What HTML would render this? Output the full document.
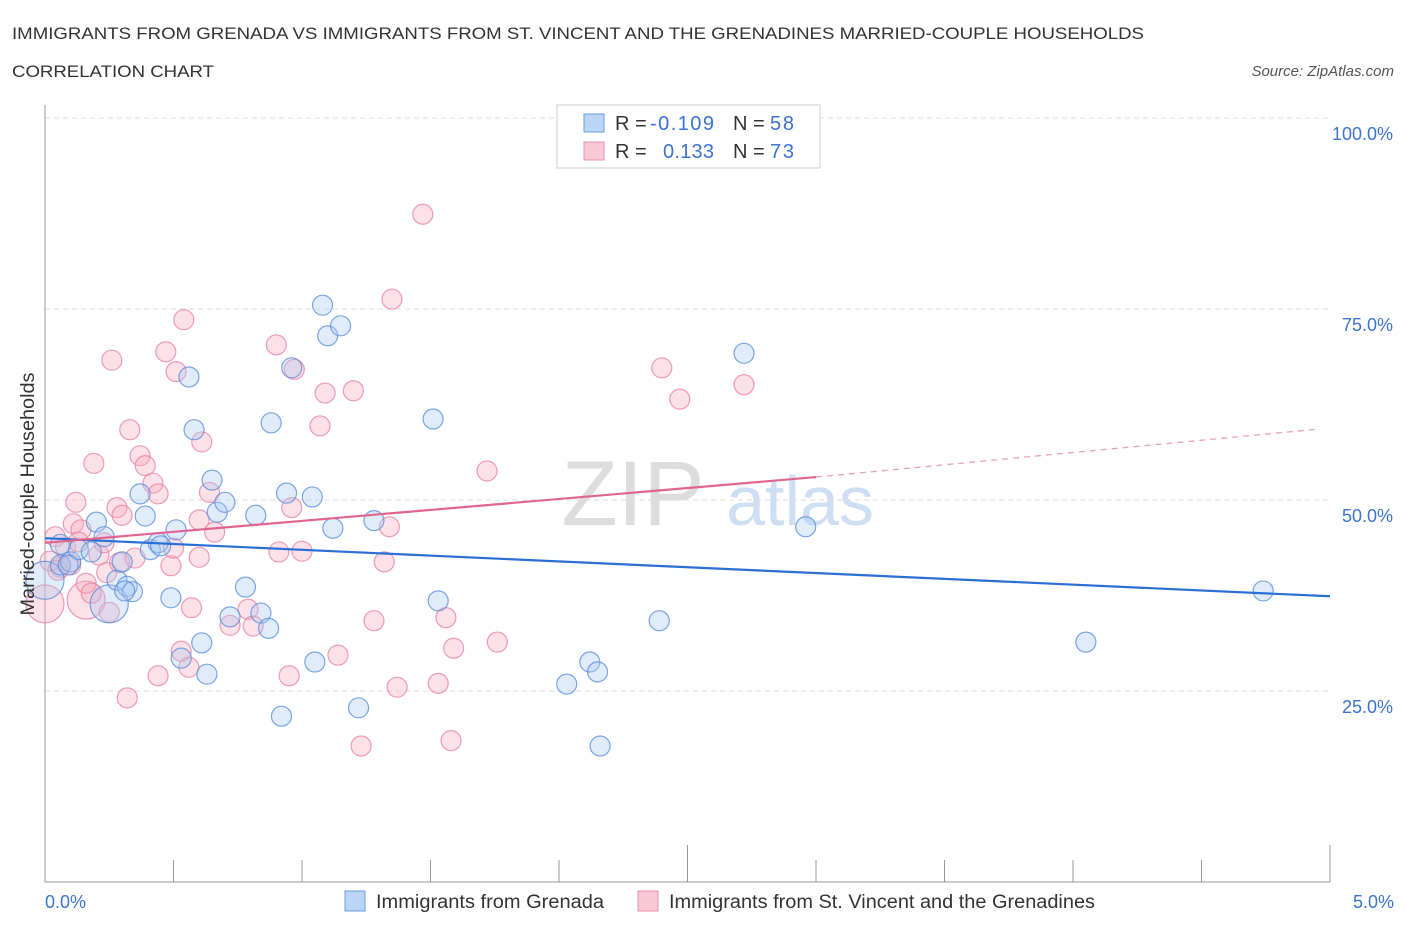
<!DOCTYPE html>
<html><head><meta charset="utf-8"><style>
body{margin:0;background:#fff;font-family:"Liberation Sans",sans-serif;}
svg text{font-family:"Liberation Sans",sans-serif;}
</style></head><body>
<svg id="chart" width="1406" height="930" xmlns="http://www.w3.org/2000/svg">
<text x="12" y="39" font-size="17" fill="#333" textLength="1132" lengthAdjust="spacingAndGlyphs">IMMIGRANTS FROM GRENADA VS IMMIGRANTS FROM ST. VINCENT AND THE GRENADINES MARRIED-COUPLE HOUSEHOLDS</text>
<text x="12" y="77" font-size="17" fill="#333" textLength="202" lengthAdjust="spacingAndGlyphs">CORRELATION CHART</text>
<text x="1394" y="76" font-size="15" fill="#555" font-style="italic" text-anchor="end">Source: ZipAtlas.com</text>
<text x="633" y="525" font-size="92" fill="#ddd" font-family="Liberation Serif" text-anchor="middle">ZIP</text>
<text x="800" y="525" font-size="70" fill="#cfdff3" text-anchor="middle">atlas</text>
<g id="grid"></g>
<g id="axes"></g>
<g id="pts"></g>
<g id="trend"></g>
<text x="34" y="494" font-size="19" fill="#333" text-anchor="middle" textLength="243" lengthAdjust="spacingAndGlyphs" transform="rotate(-90 34 494)">Married-couple Households</text>
<g>
<rect x="557" y="105" width="263" height="63" fill="#fff" stroke="#ccc"/>
<rect x="584" y="114" width="20" height="18" fill="#bcd5f5" stroke="#6a9be0"/>
<text x="615" y="130" font-size="20" fill="#333">R = </text><text x="650" y="130" font-size="20" fill="#3b73d1" textLength="64">-0.109</text>
<text x="733" y="130" font-size="20" fill="#333">N = </text><text x="770" y="130" font-size="20" fill="#3b73d1" textLength="24">58</text>
<rect x="584" y="142" width="20" height="18" fill="#f8c8d6" stroke="#e891ab"/>
<text x="615" y="158" font-size="20" fill="#333">R = </text><text x="663" y="158" font-size="20" fill="#3b73d1" textLength="51">0.133</text>
<text x="733" y="158" font-size="20" fill="#333">N = </text><text x="770" y="158" font-size="20" fill="#3b73d1" textLength="24">73</text>
</g>
<g>
<rect x="345" y="891" width="20" height="20" fill="#bcd5f5" stroke="#6a9be0"/>
<text x="376" y="908" font-size="19" fill="#333" textLength="228" lengthAdjust="spacingAndGlyphs">Immigrants from Grenada</text>
<rect x="638" y="891" width="20" height="20" fill="#f8c8d6" stroke="#e891ab"/>
<text x="669" y="908" font-size="19" fill="#333" textLength="426" lengthAdjust="spacingAndGlyphs">Immigrants from St. Vincent and the Grenadines</text>
</g>
</svg>
<script>
const yTicks=[25,50,75,100];
const yTickLabels=["25.0%","50.0%","75.0%","100.0%"];
const xTickLabels=["0.0%","5.0%"];
const blueX=[0.00,0.06,0.10,0.13,0.18,0.20,0.23,0.25,0.28,0.30,0.32,0.34,0.37,0.39,0.41,0.44,0.45,0.49,0.51,0.53,0.56,0.58,0.61,0.63,0.65,0.67,0.70,0.78,0.72,0.82,0.84,0.87,0.88,0.92,0.94,0.96,1.04,1.05,1.08,1.10,1.12,1.15,1.22,1.28,1.51,1.53,2.03,2.12,2.15,2.16,2.39,2.72,2.96,4.05,4.74,0.09,0.31,0.06];
const blueY=[39.5,41.5,41.9,43.5,43.2,47.1,45.2,36.4,39.5,41.9,38.7,38.0,50.8,47.9,43.5,44.4,44.0,37.2,46.1,29.3,66.1,59.2,31.3,27.2,52.6,48.4,49.7,38.6,34.7,48.0,35.2,33.2,60.1,21.7,50.9,67.3,50.4,28.8,75.5,71.5,46.3,72.8,22.8,47.3,60.6,36.8,25.9,28.8,27.5,17.8,34.2,69.2,46.5,31.4,38.1,41.5,38.1,44.2];
const blueBig=[0,7];
const pinkX=[0.00,0.04,0.06,0.10,0.11,0.12,0.14,0.16,0.16,0.18,0.19,0.21,0.23,0.25,0.26,0.28,0.30,0.29,0.32,0.33,0.35,0.37,0.39,0.42,0.44,0.44,0.47,0.49,0.50,0.51,0.53,0.54,0.56,0.57,0.60,0.60,0.61,0.64,0.66,0.72,0.79,0.81,0.90,0.91,0.95,0.96,0.97,1.00,1.07,1.09,1.14,1.20,1.23,1.28,1.32,1.34,1.35,1.37,1.47,1.53,1.56,1.58,1.59,1.72,1.76,2.40,2.47,2.72,0.02,0.08,0.13,0.05,0.24];
const pinkY=[36.4,45.2,41.2,41.5,46.9,49.7,46.1,36.9,39.1,37.8,54.8,42.8,44.4,35.3,68.3,49.0,48.0,41.8,24.1,59.2,42.4,55.8,54.5,52.2,50.8,27.0,69.4,41.4,43.7,66.8,30.2,73.6,28.1,35.9,47.4,42.5,57.6,51.0,45.8,33.6,35.7,33.5,70.3,43.2,27.0,49.0,67.1,43.3,59.7,64.0,29.7,64.3,17.8,34.2,41.9,46.5,76.3,25.5,87.4,26.0,34.6,18.5,30.6,53.8,31.4,67.3,63.2,65.1,42.0,43.8,44.5,40.8,40.5];
const pinkBig=[0,7];
const blueTrend=[45.0,37.4];
const pinkTrend=[44.4,53.0,59.3];
const pinkTrendX=[0,3.0,4.96];

const NS="http://www.w3.org/2000/svg";
const X0=45,X1=1330,Y0=882,Y100=118;
const sx=v=>X0+(X1-X0)*v/5;
const sy=v=>Y0-(Y0-Y100)*v/100;
function mk(tag,attrs,parent){const e=document.createElementNS(NS,tag);for(const k in attrs)e.setAttribute(k,attrs[k]);parent.appendChild(e);return e;}
const grid=document.getElementById('grid'),axes=document.getElementById('axes');
yTicks.forEach((t,i)=>{
  const l=mk('line',{x1:X0,x2:1330,y1:sy(t),y2:sy(t),stroke:'#ddd','stroke-dasharray':'5,4'},grid);
  
  
  const tx=mk('text',{x:1393,y:sy(t)+22,'font-size':18,fill:'#3b73d1','text-anchor':'end'},grid);
  tx.textContent=yTickLabels[i];
  
  
});
const ya=mk('line',{x1:X0,x2:X0,y1:105,y2:Y0,stroke:'#999'},axes);


const xa=mk('line',{x1:X0,x2:X1,y1:Y0,y2:Y0,stroke:'#999'},axes);


for(let i=0;i<=10;i++){
  const tk=mk('line',{x1:sx(i*0.5),x2:sx(i*0.5),y1:(i==5||i==10)?845:860,y2:Y0,stroke:'#999'},axes);
  
  
}
xTickLabels.forEach((s,i)=>{
  const tx=mk('text',{x:i?1394:45,y:908,'font-size':18,fill:'#3b73d1','text-anchor':i?'end':'start'},axes);
  tx.textContent=s;
  
  
});
const pts=document.getElementById('pts');
function drawSeries(xs,ys,big,fill,stroke,name){
  xs.forEach((x,i)=>{
    const c=mk('circle',{cx:sx(x),cy:sy(ys[i]),r:big.includes(i)?19:10,fill:fill,'fill-opacity':0.35,stroke:stroke,'stroke-width':1.2,'stroke-opacity':0.8},pts);
    
    
  });
}
drawSeries(pinkX,pinkY,pinkBig,'#f6a8bf','#e985a3','point-stvincent');
drawSeries(blueX,blueY,blueBig,'#a8c8f0','#5b8fdc','point-grenada');
const tr=document.getElementById('trend');
const bl=mk('line',{x1:sx(0),y1:sy(blueTrend[0]),x2:sx(5),y2:sy(blueTrend[1]),stroke:'#2a6fd6','stroke-width':2.2},tr);


const pl=mk('line',{x1:sx(pinkTrendX[0]),y1:sy(pinkTrend[0]),x2:sx(pinkTrendX[1]),y2:sy(pinkTrend[1]),stroke:'#e0658e','stroke-width':2.2},tr);


const pd=mk('line',{x1:sx(pinkTrendX[1]),y1:sy(pinkTrend[1]),x2:sx(pinkTrendX[2]),y2:sy(pinkTrend[2]),stroke:'#e8a0b8','stroke-width':1.3,'stroke-dasharray':'6,5'},tr);


</script>
</body></html>
